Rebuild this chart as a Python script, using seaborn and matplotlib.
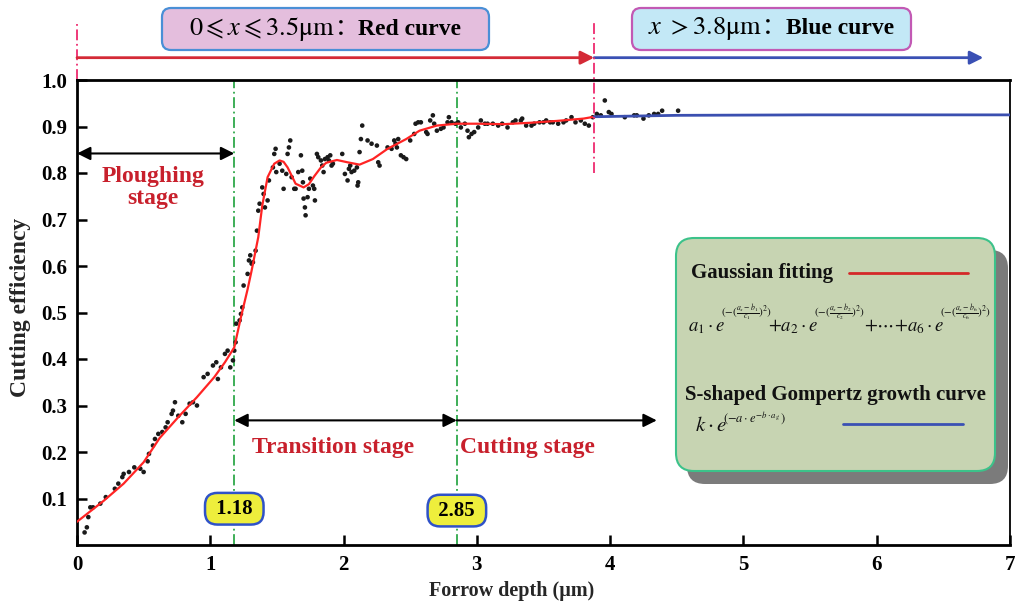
import numpy as np
import pandas as pd
import seaborn as sns
import matplotlib
matplotlib.use("Agg")
import matplotlib.pyplot as plt
from matplotlib.patches import FancyBboxPatch
from matplotlib.offsetbox import TextArea, HPacker, AnnotationBbox

# ---------------- data ----------------
pts_x = [0.057, 0.074, 0.085, 0.10, 0.12, 0.175, 0.216, 0.284, 0.31, 0.34, 0.35, 0.39, 0.43, 0.475,
         0.50, 0.53, 0.54, 0.57, 0.585, 0.61, 0.64, 0.665, 0.68, 0.71, 0.72, 0.735, 0.76, 0.79, 0.815,
         0.845, 0.87, 0.90,
         0.95, 0.98, 1.02, 1.045, 1.057, 1.08, 1.11, 1.13, 1.15, 1.17, 1.18, 1.19, 1.195, 1.22, 1.23,
         1.24, 1.25, 1.28, 1.29, 1.30, 1.31, 1.32, 1.34, 1.35, 1.36, 1.37,
         1.39, 1.40, 1.43, 1.41, 1.44, 1.47, 1.48, 1.49, 1.495, 1.52, 1.54, 1.55, 1.57, 1.58, 1.59,
         1.60, 1.61, 1.63, 1.64, 1.66, 1.68, 1.69, 1.695, 1.70, 1.71, 1.715, 1.73, 1.74, 1.75, 1.77,
         1.78, 1.785, 1.80, 1.81, 1.83, 1.84, 1.85, 1.86, 1.88, 1.89, 1.90, 1.91, 1.92, 1.99, 2.01,
         2.03, 2.04, 2.05, 2.06, 2.08, 2.10, 2.105, 2.11, 2.12, 2.13, 2.14, 2.18, 2.21, 2.25, 2.26,
         2.27, 2.33, 2.36, 2.38, 2.39, 2.40, 2.41,
         2.43, 2.45, 2.47, 2.50, 2.53, 2.54, 2.56, 2.58, 2.62, 2.63, 2.65, 2.67, 2.68, 2.70, 2.73,
         2.75, 2.78, 2.79, 2.81, 2.84, 2.86, 2.88, 2.91, 2.93, 2.94, 2.96, 2.98, 3.01, 3.03, 3.06,
         3.08, 3.12, 3.16, 3.19, 3.23, 3.27, 3.29, 3.33, 3.34, 3.37, 3.41, 3.43, 3.47, 3.50, 3.52,
         3.55, 3.57, 3.61, 3.65, 3.67, 3.71, 3.74, 3.78, 3.81, 3.84,
         3.87, 3.90, 3.93, 3.96, 3.99, 4.01, 4.11, 4.18, 4.20, 4.25, 4.29, 4.33, 4.36, 4.39, 4.51]
pts_y = [0.027, 0.038, 0.060, 0.081, 0.081, 0.089, 0.103, 0.121, 0.132, 0.146, 0.153, 0.157, 0.167, 0.164,
         0.157, 0.180, 0.196, 0.214, 0.228, 0.239, 0.243, 0.253, 0.264, 0.282, 0.289, 0.307, 0.278, 0.264, 0.282,
         0.304, 0.307, 0.300,
         0.361, 0.368, 0.386, 0.393, 0.357, 0.382, 0.411, 0.418, 0.382, 0.397, 0.418, 0.436, 0.476, 0.483, 0.497,
         0.511, 0.558, 0.583, 0.612, 0.623, 0.605, 0.608, 0.633, 0.676, 0.719, 0.734,
         0.769, 0.755, 0.741, 0.726, 0.784, 0.812, 0.841, 0.852, 0.802, 0.820, 0.805, 0.766, 0.798, 0.841, 0.855,
         0.870, 0.791, 0.766, 0.766, 0.802, 0.838, 0.805, 0.780, 0.745, 0.726, 0.709, 0.748, 0.766, 0.788, 0.773,
         0.766, 0.741, 0.841, 0.834, 0.827, 0.816, 0.802, 0.830, 0.834, 0.827, 0.838, 0.816, 0.820, 0.841, 0.798,
         0.784, 0.809, 0.816, 0.802, 0.805, 0.812, 0.773, 0.780, 0.845, 0.873, 0.902, 0.870, 0.863, 0.859, 0.823,
         0.816, 0.855, 0.852, 0.870, 0.863, 0.855, 0.873,
         0.838, 0.834, 0.830, 0.870, 0.884, 0.906, 0.909, 0.909, 0.888, 0.884, 0.913, 0.924, 0.906, 0.891, 0.895,
         0.898, 0.909, 0.920, 0.909, 0.906, 0.909, 0.898, 0.906, 0.891, 0.877, 0.884, 0.888, 0.898, 0.913, 0.906,
         0.906, 0.906, 0.902, 0.906, 0.898, 0.909, 0.913, 0.913, 0.917, 0.902, 0.902, 0.906, 0.909, 0.909, 0.913,
         0.909, 0.909, 0.906, 0.909, 0.913, 0.920, 0.909, 0.913, 0.906, 0.902,
         0.920, 0.927, 0.924, 0.956, 0.931, 0.927, 0.920, 0.924, 0.924, 0.917, 0.924, 0.927, 0.927, 0.934, 0.934]

red_x = [0.0, 0.2, 0.35, 0.5, 0.62, 0.76, 0.9, 1.03, 1.11, 1.18, 1.23, 1.28, 1.31, 1.36, 1.39, 1.43,
         1.48, 1.52, 1.55, 1.58, 1.64, 1.70, 1.74, 1.78, 1.83, 1.87, 1.95, 2.03, 2.12, 2.22, 2.33,
         2.47, 2.57, 2.70, 2.85, 3.0, 3.2, 3.4, 3.6, 3.8, 3.88]
red_y = [0.050, 0.095, 0.132, 0.178, 0.230, 0.275, 0.318, 0.361, 0.393, 0.425, 0.490, 0.550, 0.590, 0.662,
         0.730, 0.791, 0.820, 0.827, 0.824, 0.812, 0.777, 0.769, 0.776, 0.793, 0.812, 0.822, 0.828, 0.823,
         0.818, 0.830, 0.852, 0.873, 0.891, 0.902, 0.906, 0.906, 0.905, 0.908, 0.912, 0.917, 0.921]

blue_x = [3.88, 4.5, 5.5, 7.0]
blue_y = [0.921, 0.924, 0.925, 0.925]

x_ticks = [0, 1, 2, 3, 4, 5, 6, 7]
y_ticks = [0.1, 0.2, 0.3, 0.4, 0.5, 0.6, 0.7, 0.8, 0.9, 1.0]
stage_bounds = [1.18, 2.85]
curve_switch = 3.88

# ---------------- style ----------------
sns.set_theme(style="ticks")
SERIF = ["Liberation Serif", "DejaVu Serif", "DejaVu Sans", "Noto Sans CJK SC"]
plt.rcParams["font.family"] = SERIF
plt.rcParams["mathtext.fontset"] = "stix"

W, H = 1016, 604
fig = plt.figure(figsize=(W / 100, H / 100), dpi=100)
ax = fig.add_axes([77 / W, 1 - 545 / H, (1010 - 77) / W, (545 - 80) / H])

def P(px, py):
    """image pixel (y down) -> inches for fig.dpi_scale_trans"""
    return px / 100, (H - py) / 100

tr = fig.dpi_scale_trans

# scatter + curves
sns.scatterplot(x=pts_x, y=pts_y, ax=ax, color="#1a1a1a", s=11, edgecolor="none", zorder=4)
sns.lineplot(x=red_x, y=red_y, ax=ax, color="#ff2424", lw=1.6, sort=False, estimator=None, zorder=5)
sns.lineplot(x=blue_x, y=blue_y, ax=ax, color="#3b4fb0", lw=2.0, sort=False, estimator=None, zorder=5)

ax.set_xlim(0, 7)
ax.set_ylim(0, 1.0)
ax.set_xticks(x_ticks)
ax.set_yticks(y_ticks)
ax.set_xticklabels([str(t) for t in x_ticks])
ax.set_yticklabels([f"{t:.1f}" for t in y_ticks])
ax.tick_params(direction="in", length=7, width=1.8, labelsize=15, pad=7, colors="black")
for lab in ax.get_xticklabels() + ax.get_yticklabels():
    lab.set_fontweight("bold")
for s in ["left", "bottom", "top"]:
    ax.spines[s].set_linewidth(2.0)
    ax.spines[s].set_color("black")
ax.spines["right"].set_linewidth(1.3)
ax.spines["right"].set_color("black")
ax.set_xlabel("Forrow depth (μm)", fontsize=14.5, fontweight="bold")
ax.xaxis.set_label_coords((512 - 77) / 933, -0.078)
ax.set_ylabel("Cutting efficiency", fontsize=17, fontweight="bold")
ax.yaxis.set_label_coords(-0.049, 0.51)
ax.grid(False)

# stage boundaries
for xb in stage_bounds:
    ax.axvline(xb, color="#2ea84a", lw=1.3, ls=(0, (6, 2, 1, 2)), zorder=2)

# pink boundaries
pink = "#ee2a6e"
ax.plot([0, 0], [1.0, 1.125], color=pink, lw=1.3, ls=(0, (6, 2, 1, 2)), clip_on=False)
ax.plot([curve_switch, curve_switch], [0.80, 1.125], color=pink, lw=1.3, ls=(0, (6, 2, 1, 2)),
        clip_on=False, zorder=6)

# top arrows
ax.annotate("", xy=(curve_switch, 1.048), xytext=(0, 1.048), annotation_clip=False,
            arrowprops=dict(arrowstyle="-|>", color="#d42a36", lw=2.0, mutation_scale=20, shrinkA=0, shrinkB=0))
ax.annotate("", xy=(6.8, 1.048), xytext=(curve_switch, 1.048), annotation_clip=False,
            arrowprops=dict(arrowstyle="-|>", color="#3a50b4", lw=2.0, mutation_scale=20, shrinkA=0, shrinkB=0))

# top boxes
def rbox(x0, y0, x1, y1, fc, ec, lw=1.5, r=8, z=1):
    bx, by = P(x0, y1)
    p = FancyBboxPatch((bx, by), (x1 - x0) / 100, (y1 - y0) / 100,
                       boxstyle=f"round,pad=0,rounding_size={r/100}", fc=fc, ec=ec, lw=lw,
                       transform=tr, zorder=z)
    fig.add_artist(p)

rbox(162, 8, 489, 50, "#e4bedd", "#4a8fd6", lw=1.6, r=9)
rbox(632, 8, 911, 50, "#c3e8f6", "#c259b4", lw=1.6, r=9)

def mixed(parts, center):
    kids = [TextArea(t, textprops=p) for t, p in parts]
    pack = HPacker(children=kids, align="baseline", pad=0, sep=0)
    ab = AnnotationBbox(pack, P(*center), xycoords=tr, frameon=False, box_alignment=(0.5, 0.5),
                        pad=0, zorder=3)
    fig.add_artist(ab)

bold = dict(fontsize=17, fontweight="bold", color="black", family=SERIF)
mathp = dict(fontsize=19, color="black")
cjk = dict(fontsize=17, color="black", family=["Noto Sans CJK SC", "DejaVu Sans"])
mixed([(r"$0\leqslant x\leqslant 3.5\mathrm{\mu m}$", mathp), ("：", cjk), ("Red curve", bold)], (325, 29))
mixed([(r"$x\ {>}3.8\mathrm{\mu m}$", mathp), ("：", cjk), ("Blue curve", bold)], (771, 29))

# stage arrows and labels
stage_red = "#c8202c"
def darrow(x0, x1, y, style="<|-|>"):
    ax.annotate("", xy=(x1, y), xytext=(x0, y),
                arrowprops=dict(arrowstyle=style, color="black", lw=1.5, mutation_scale=20,
                                shrinkA=0, shrinkB=0))

darrow(0, stage_bounds[0], 0.842)
darrow(stage_bounds[0], stage_bounds[1], 0.268)
darrow(stage_bounds[1], 4.35, 0.268, style="-|>")
ax.text(0.57, 0.768, "Ploughing\nstage", ha="center", va="center", color=stage_red,
        fontsize=17, fontweight="bold", linespacing=1.05)
ax.text(1.92, 0.21, "Transition stage", ha="center", va="center", color=stage_red,
        fontsize=17, fontweight="bold")
ax.text(3.38, 0.21, "Cutting stage", ha="center", va="center", color=stage_red,
        fontsize=17, fontweight="bold")
for xb, yb in zip(stage_bounds, [0.078, 0.074]):
    ax.text(xb, yb, f" {xb:.2f} ", ha="center", va="center", fontsize=15, fontweight="bold",
            color="black", zorder=7,
            bbox=dict(boxstyle="round,pad=0.28,rounding_size=0.6", fc="#eeee3c", ec="#2f52c8", lw=1.8))

# legend panel
rbox(687, 250, 1008, 484, "#7b7b7b", "none", lw=0, r=18, z=8)
rbox(676, 238, 995, 471, "#c7d4b2", "#3cc28a", lw=1.5, r=18, z=9)

ink = "#111111"
fig.text(*P(691, 273), "Gaussian fitting", transform=tr, ha="left", va="center",
         fontsize=15, fontweight="bold", color=ink, zorder=10)
fig.add_artist(plt.Line2D([849 / 100, 968 / 100], [(H - 273) / 100] * 2, transform=tr,
                          color="#d42828", lw=2.0, zorder=10))

# Gaussian sum formula, composed of main terms followed by small exponents
renderer = fig.canvas.get_renderer()
terms = [(688, r"$a_1\cdot e$", r"$(-(\frac{a_x-b_1}{c_1})^2)$"),
         (768, r"${+}a_2\cdot e$", r"$(-(\frac{a_x-b_2}{c_2})^2)$"),
         (864, r"${+}{\cdots}{+}a_6\cdot e$", r"$(-(\frac{a_x-b_6}{c_6})^2)$")]
for xp, main_t, exp_t in terms:
    tm = fig.text(*P(xp, 331), main_t, transform=tr, ha="left", va="baseline", fontsize=13.5,
                  color=ink, zorder=10)
    x_end = tm.get_window_extent(renderer).x1
    fig.text((x_end - 4) / 100, (H - 313) / 100, exp_t, transform=tr, ha="left", va="center",
             fontsize=8, color=ink, zorder=10)

fig.text(*P(685, 395), "S-shaped Gompertz growth curve", transform=tr, ha="left", va="center",
         fontsize=15, fontweight="bold", color=ink, zorder=10)
fig.text(*P(695, 431), r"$k\cdot e$", transform=tr, ha="left", va="baseline", fontsize=15,
         color=ink, zorder=10)
fig.text(*P(723, 418), r"$(-a\cdot e^{-b\cdot a_g}\,)$", transform=tr, ha="left", va="center",
         fontsize=9, color=ink, zorder=10)
fig.add_artist(plt.Line2D([843 / 100, 963 / 100], [(H - 424) / 100] * 2, transform=tr,
                          color="#3a50b4", lw=2.0, zorder=10))

fig.savefig("out.png", dpi=100)
